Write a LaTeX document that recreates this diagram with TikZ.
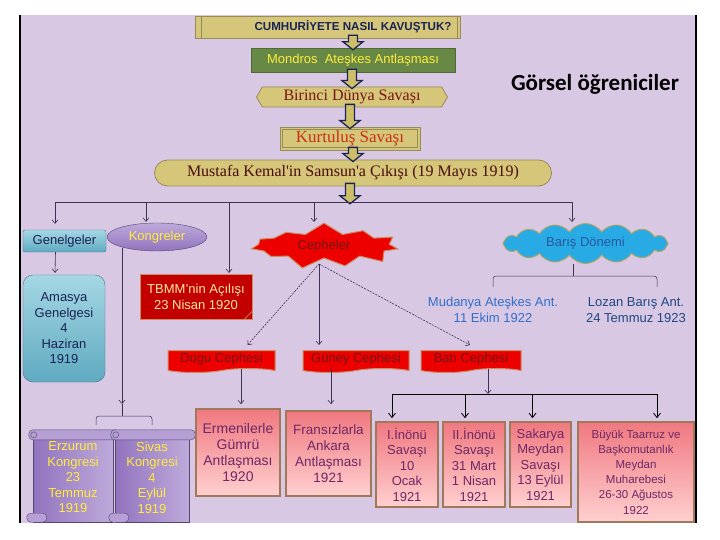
\documentclass[tikz,border=0pt]{standalone}
\usepackage{fontspec}
\setmainfont{Liberation Sans}
\newfontfamily\serifface{Liberation Serif}
\newfontfamily\noteface{Carlito}
\usetikzlibrary{shapes.geometric,shapes.symbols,calc,arrows.meta}

\definecolor{slidebg}{RGB}{216,200,228}
\definecolor{bannertan}{RGB}{214,198,122}
\definecolor{tanedge}{RGB}{150,140,90}
\definecolor{navy}{RGB}{25,35,85}
\definecolor{mossgreen}{RGB}{104,136,70}
\definecolor{mossedge}{RGB}{80,105,55}
\definecolor{ochre}{RGB}{205,190,105}
\definecolor{wine}{RGB}{120,20,20}
\definecolor{rust}{RGB}{200,50,20}
\definecolor{tealdark}{RGB}{95,170,192}
\definecolor{teallight}{RGB}{165,215,228}
\definecolor{lilac}{RGB}{145,115,190}
\definecolor{lilaclight}{RGB}{190,170,218}
\definecolor{lemon}{RGB}{255,236,60}
\definecolor{brick}{RGB}{195,0,0}
\definecolor{fire}{RGB}{236,0,0}
\definecolor{clay}{RGB}{205,140,95}
\definecolor{cream}{RGB}{255,232,165}
\definecolor{sky}{RGB}{40,170,228}
\definecolor{khaki}{RGB}{175,165,105}
\definecolor{steel}{RGB}{50,110,200}
\definecolor{deepblue}{RGB}{30,70,130}
\definecolor{rose}{RGB}{240,120,128}
\definecolor{blush}{RGB}{255,208,208}
\definecolor{umber}{RGB}{160,120,90}
\definecolor{plum}{RGB}{110,40,100}
\definecolor{wire}{RGB}{60,50,85}

% hollow block arrow between two stacked boxes
\newcommand{\chainarrow}[2]{%
  \draw[chainarrow] let \p1=($(#1.south)+(0,-3)$), \p2=($(#2.north)+(0,2)$) in
    (\x2-4.5pt,\y1) -- (\x2+4.5pt,\y1) -- (\x2+4.5pt,\y2+8pt) -- (\x2+10pt,\y2+8pt)
    -- (\x2,\y2) -- (\x2-10pt,\y2+8pt) -- (\x2-4.5pt,\y2+8pt) -- cycle;}

\begin{document}
\begin{tikzpicture}[x=1pt, y=-1pt,
  font=\fontsize{13}{15.5}\selectfont,
  link/.style={draw=wire, line width=0.6pt, -{Straight Barb[length=3.5pt,width=6pt]}},
  dotlink/.style={link, dash pattern=on 2pt off 1.2pt},
  strong link/.style={draw=black, line width=0.8pt, -{Straight Barb[length=4.5pt,width=7pt]}},
  branch/.style={draw=wire, line width=0.5pt, rounded corners=3pt},
  chainarrow/.style={draw=navy, line width=1.3pt, fill=ochre},
  banner/.style={draw=tanedge, fill=bannertan, line width=0.6pt, minimum width=265pt, minimum height=22pt, inner sep=0pt, text=navy, font=\fontsize{11.6}{13}\selectfont\bfseries},
  greenbox/.style={draw=mossedge, fill=mossgreen, minimum width=204pt, minimum height=24pt, inner sep=0pt, text=lemon},
  tanbox/.style={draw=tanedge, fill=bannertan, line width=0.8pt, inner sep=0pt},
  tealbox/.style={draw=tealdark!70!black, line width=0.4pt, top color=teallight, bottom color=tealdark, text=navy, align=center, inner sep=0pt},
  frontbox/.style={tape, tape bend top=none, tape bend height=4pt, draw=clay, line width=1pt, fill=fire, text=wine, minimum height=22pt, inner sep=0pt},
  treatybox/.style={draw=umber, line width=1.6pt, shading angle=45, top color=rose, bottom color=blush, text=plum, align=center, inner sep=0pt},
  scrollbox/.style={draw=lilac!60!black, line width=0.4pt, left color=lilac, right color=lilaclight, text=lemon, align=center, inner sep=0pt},
  scrollroll/.style={draw=lilac!60!black, line width=0.4pt, fill=lilaclight!80!lilac, rounded corners=4pt}]

\useasboundingbox (0,0) rectangle (720,540);
\fill[white] (0,0) rectangle (720,540);
% slide area
\fill[slidebg] (21,15) rectangle (695,523);
\draw[line width=2pt] (20,15) -- (20,523);
\draw[line width=2pt] (696,15) -- (696,523);

\node[font=\noteface\fontsize{23}{26}\selectfont\bfseries] (note) at (595,84) {Görsel öğreniciler};

% main chain
\node[banner] (title) at (328,27) {\hspace{50pt}CUMHURİYETE NASIL KAVUŞTUK?};
\draw[tanedge] ([xshift=6]title.north west) -- ([xshift=6]title.south west);
\draw[tanedge] ([xshift=-4]title.north east) -- ([xshift=-4]title.south east);
\node[greenbox] (mondros) at (353,60) {Mondros\ \ Ateşkes Antlaşması};
\node[tanbox, signal, signal to=west and east, signal pointer angle=120, minimum width=191pt, minimum height=20pt, text=wine, font=\serifface\fontsize{16}{18}\selectfont] (birinci) at (352,97) {Birinci Dünya Savaşı};
\node[tanbox, minimum width=140pt, minimum height=23pt, text=rust, font=\serifface\fontsize{17}{19}\selectfont] (kurtulus) at (350,138.5) {Kurtuluş Savaşı};
\draw[tanedge, line width=0.6pt] ([shift={(3,-3)}]kurtulus.south west) rectangle ([shift={(-3,3)}]kurtulus.north east);
\node[tanbox, rounded corners=13pt, minimum width=397pt, minimum height=26pt, text=wine!60!black, font=\serifface\fontsize{16}{18}\selectfont] (samsun) at (353,173) {Mustafa Kemal'in Samsun'a Çıkışı (19 Mayıs 1919)};
\node[inner sep=0pt, minimum size=0pt] (hub) at (350,202) {};

\chainarrow{title}{mondros}
\chainarrow{mondros}{birinci}
\chainarrow{birinci}{kurtulus}
\chainarrow{kurtulus}{samsun}
\chainarrow{samsun}{hub}

% second level
\node[tealbox, rounded corners=2pt, minimum width=83pt, minimum height=22pt] (genelgeler) at (64.5,241) {Genelgeler};
\node[ellipse, draw=lilac!60!black, line width=0.4pt, top color=lilaclight, bottom color=lilac, text=lemon, minimum width=100pt, minimum height=28pt, inner sep=0pt] (kongreler) at (157,237) {Kongreler};
\node[starburst, starburst points=11, starburst point height=12pt, random starburst=7, draw=clay, line width=1pt, fill=fire, text=wine, minimum width=156pt, minimum height=48pt, inner sep=0pt] (cepheler) at (324,246) {Cepheler};
\node[cloud, cloud puffs=16, cloud puff arc=110, aspect=4.2, draw=khaki, line width=1pt, fill=sky, text=steel!80!black, minimum width=165pt, minimum height=40pt, inner sep=0pt] (baris) at (585.5,243.5) {Barış Dönemi};
\node[draw=clay, line width=1pt, fill=brick, text=cream, align=center, minimum width=112pt, minimum height=45pt, inner sep=0pt] (tbmm) at (196,297) {TBMM'nin Açılışı\\23 Nisan 1920};
\filldraw[draw=clay, fill=clay!70, line width=0.6pt] ([xshift=-9]tbmm.south east) -- ([shift={(0,-9)}]tbmm.south east) -- ([shift={(-6,-3)}]tbmm.south east) -- cycle;

\draw[link, shorten >=6pt] (hub) -| ([xshift=-9.5]genelgeler.north);
\draw[link, shorten >=1pt] (hub) -| ([xshift=-11]kongreler.north);
\draw[link, shorten >=1pt] (hub) -| ([xshift=33]tbmm.north);
\coordinate (cephtop) at (314,222);
\draw[link] (hub) -| (cephtop);
\draw[link, shorten >=1pt] (hub) -| ([xshift=-13.5]baris.north);

% genelgeler branch
\node[tealbox, rounded corners=10pt, minimum width=82pt, minimum height=107pt] (amasya) at (64,328.5) {Amasya\\Genelgesi\\4\\Haziran\\1919};
\draw[link, shorten >=2pt] ([xshift=-9]genelgeler.south) -- ([xshift=-9]amasya.north);

% kongreler branch
\node[scrollbox, minimum width=80pt, minimum height=89pt] (erzurum) at (73,477.5) {Erzurum\\Kongresi\\23\\Temmuz\\1919};
\node[scrollbox, minimum width=74pt, minimum height=89pt] (sivas) at (152,477.5) {Sivas\\Kongresi\\4\\Eylül\\1919};
\foreach \s in {erzurum,sivas} {
  \draw[scrollroll] ([shift={(-4,-3)}]\s.north west) rectangle ([shift={(6,7)}]\s.north east);
  \draw[scrollroll] ([shift={(1,2)}]\s.north west) circle (3);
  \draw[scrollroll] ([shift={(-6,-9)}]\s.south west) rectangle ([shift={(14,0)}]\s.south west);
}
\coordinate (kongdrop) at (122,248);
\coordinate (kongbrace) at (122,416);
\draw[link] (kongdrop) -- ++(0,156);
\draw[wire, line width=0.5pt] (kongbrace) -- ++(0,-12);
\draw[branch] (96,425) |- (kongbrace) -| (152,425);

% fronts
\node[frontbox, minimum width=107pt] (dogu) at (221.5,359.5) {Dogu Cephesi};
\node[frontbox, minimum width=106pt] (guney) at (356,359.5) {Güney Cephesi};
\node[frontbox, minimum width=100pt] (bati) at (471,359.5) {Batı Cephesi};
\coordinate (cephbot) at (319,264);
\draw[dotlink] (cephbot) -- ([shift={(26,-5)}]dogu.north);
\draw[link] (cephbot) -- ([shift={(-37,-5)}]guney.north);
\draw[dotlink] (cephbot) -- ([shift={(-1,-5)}]bati.north);

% peace
\node[text=steel, align=center] (mudanya) at (493,310) {Mudanya Ateşkes Ant.\\11 Ekim 1922};
\node[text=deepblue, align=center] (lozan) at (636,310) {Lozan Barış Ant.\\24 Temmuz 1923};
\coordinate (barisstem) at ([xshift=-12.5]baris.south);
\coordinate (barisbrace) at (573,276);
\draw[branch] (barisstem) -- (barisbrace);
\draw[branch] (493,287) |- (barisbrace) -| (657,287);

% treaties and battles
\node[treatybox, font=\fontsize{14}{16}\selectfont, minimum width=84pt, minimum height=87pt] (ermeni) at (238,452.5) {Ermenilerle\\Gümrü\\Antlaşması\\1920};
\node[treatybox, font=\fontsize{13.5}{16}\selectfont, minimum width=85pt, minimum height=85pt] (fransiz) at (328.5,453.5) {Fransızlarla\\Ankara\\Antlaşması\\1921};
\node[treatybox, minimum width=62pt, minimum height=85pt] (inonu1) at (407,464.5) {I.İnönü\\Savaşı\\10\\Ocak\\1921};
\node[treatybox, minimum width=62pt, minimum height=85pt] (inonu2) at (474,464.5) {II.İnönü\\Savaşı\\31 Mart\\1 Nisan\\1921};
\node[treatybox, minimum width=61pt, minimum height=85pt] (sakarya) at (540.5,464.5) {Sakarya\\Meydan\\Savaşı\\13 Eylül\\1921};
\node[treatybox, font=\fontsize{11.5}{15.2}\selectfont, minimum width=116pt, minimum height=100pt] (buyuk) at (636,472) {Büyük Taarruz ve\\Başkomutanlık\\Meydan\\Muharebesi\\26-30 Ağustos\\1922};

\coordinate (dogudrop) at ([xshift=19.5]dogu.south);
\draw[link, shorten >=4pt] (dogudrop) -- (dogudrop |- ermeni.north);
\coordinate (guneydrop) at ([xshift=-25]guney.south);
\draw[link, shorten >=6pt] (guneydrop) -- (guneydrop |- fransiz.north);
\coordinate (batidrop) at ([xshift=17]bati.south);
\coordinate (battlebus) at (488,394);
\draw[link] (batidrop) -- (battlebus);
\draw[strong link, shorten >=3pt] (battlebus) -| ([xshift=-15]inonu1.north);
\draw[strong link, shorten >=3pt] (battlebus) -| ([xshift=-9]inonu2.north);
\draw[strong link, shorten >=3pt] (battlebus) -| ([xshift=-8]sakarya.north);
\draw[strong link, shorten >=3pt] (battlebus) -| ([xshift=21]buyuk.north);
\end{tikzpicture}
\end{document}
